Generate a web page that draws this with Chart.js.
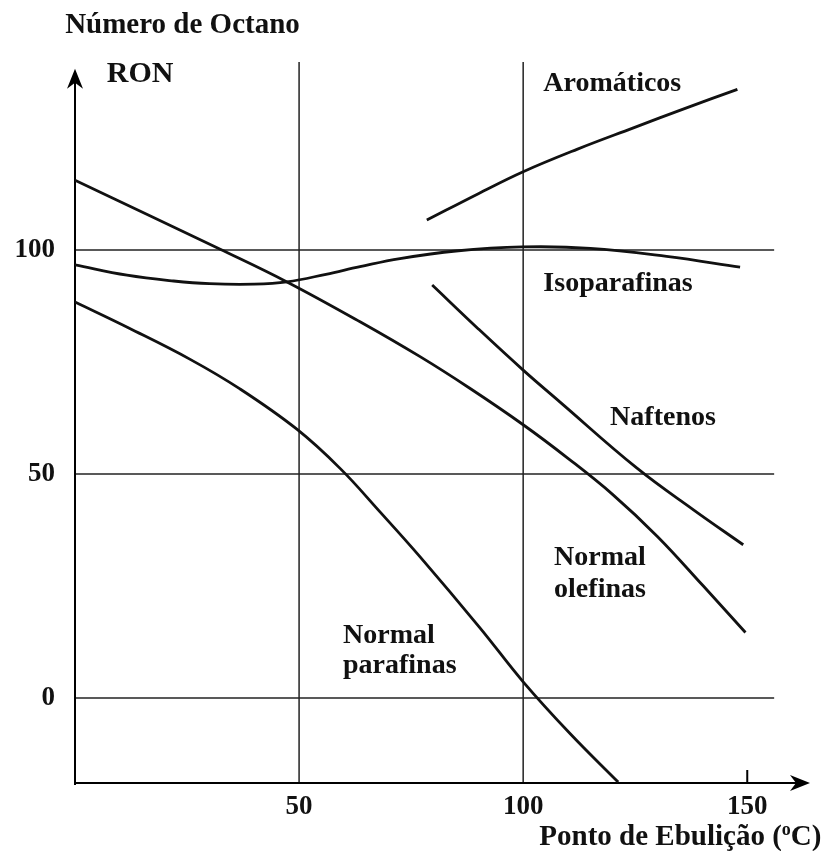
<!DOCTYPE html>
<html lang="pt">
<head>
<meta charset="utf-8">
<title>Número de Octano x Ponto de Ebulição</title>
<script src="https://cdn.jsdelivr.net/npm/chart.js@4.4.1/dist/chart.umd.min.js"></script>
<style>
  html, body { margin: 0; padding: 0; background: #fff; }
  #wrap { width: 824px; height: 851px; }
</style>
</head>
<body>
<div id="wrap"><canvas id="ronChart" width="824" height="851"></canvas></div>
<script>
// Ponto de ebulição (°C) e RON, por família
const aromaticosX = [78.5, 90, 100, 112, 124.6, 136, 147.8];
const aromaticosY = [106.7, 112.6, 117.5, 122.5, 127.3, 131.6, 135.9];

const isoparafinasX = [0, 11.6, 22, 30, 40, 47.3, 56, 63.6, 72.5, 85, 99.8, 115, 132, 148.4];
const isoparafinasY = [96.7, 94.4, 93.1, 92.5, 92.4, 92.9, 94.6, 96.3, 98.1, 99.8, 100.7, 100.4, 98.6, 96.2];

const naftenosX = [79.7, 90, 100, 108.3, 125.4, 138, 149.1];
const naftenosY = [92.2, 82.4, 73.2, 66, 51.3, 42, 34.2];

const olefinasX = [0, 16, 32.4, 47.3, 63.6, 77, 88, 100, 110, 120, 130, 140, 149.6];
const olefinasY = [115.6, 108, 100.2, 92.9, 84, 76.2, 69.2, 61, 53.5, 45.4, 36, 25.2, 14.6];

const parafinasX = [0, 12, 25.7, 36.8, 49.5, 59.2, 68, 77, 90.4, 100, 110.5, 121.2];
const parafinasY = [88.4, 82.6, 75.6, 69, 60, 51.2, 41.6, 31.5, 15.6, 3.6, -8, -18.8];

const xTicks = [50, 100, 150];
const yTicks = [0, 50, 100];
const refLinesY = [0, 50, 100];
const refLinesX = [50, 100];

// textos da figura, ancorados em coordenadas do gráfico (canto esquerdo, linha de base)
const labelTexts = ['Aromáticos', 'Isoparafinas', 'Naftenos', 'Normal', 'olefinas', 'Normal', 'parafinas'];
const labelX = [104.5, 104.5, 119.4, 106.9, 106.9, 59.8, 59.8];
const labelY = [135.5, 90.8, 60.9, 29.7, 22.5, 12.3, 5.6];

const SERIF = "'Liberation Serif', 'Times New Roman', serif";

function toPoints(xs, ys) {
  return xs.map((x, i) => ({ x: x, y: ys[i] }));
}

function curve(label, xs, ys) {
  return {
    label: label,
    data: toPoints(xs, ys),
    showLine: true,
    borderColor: '#111',
    borderWidth: 2.8,
    pointRadius: 0,
    tension: 0.4,
    fill: false
  };
}

// linhas de referência, eixos com setas e textos
const figurePlugin = {
  id: 'figure',
  beforeDatasetsDraw(chart) {
    const { ctx, scales: { x, y } } = chart;
    ctx.save();
    ctx.strokeStyle = '#222';
    ctx.lineWidth = 1.5;
    refLinesY.forEach(v => {
      ctx.beginPath();
      ctx.moveTo(x.getPixelForValue(0), y.getPixelForValue(v));
      ctx.lineTo(x.getPixelForValue(156), y.getPixelForValue(v));
      ctx.stroke();
    });
    refLinesX.forEach(v => {
      ctx.beginPath();
      ctx.moveTo(x.getPixelForValue(v), y.getPixelForValue(y.min));
      ctx.lineTo(x.getPixelForValue(v), y.getPixelForValue(y.max));
      ctx.stroke();
    });

    // eixos
    const x0 = x.getPixelForValue(0);
    const yb = y.getPixelForValue(y.min);
    const yTop = y.getPixelForValue(140.5);
    const xEnd = x.getPixelForValue(x.max);
    ctx.strokeStyle = '#000';
    ctx.lineWidth = 2;
    ctx.beginPath();
    ctx.moveTo(x0, yb + 2);
    ctx.lineTo(x0, yTop + 6);
    ctx.moveTo(x0, yb);
    ctx.lineTo(xEnd - 6, yb);
    // traço em 150
    const x150 = x.getPixelForValue(150);
    ctx.moveTo(x150, yb);
    ctx.lineTo(x150, yb - 13);
    ctx.stroke();

    ctx.fillStyle = '#000';
    ctx.beginPath();
    ctx.moveTo(x0, yTop);
    ctx.lineTo(x0 - 8, yTop + 20);
    ctx.lineTo(x0, yTop + 14);
    ctx.lineTo(x0 + 8, yTop + 20);
    ctx.closePath();
    ctx.fill();
    ctx.beginPath();
    ctx.moveTo(xEnd, yb);
    ctx.lineTo(xEnd - 20, yb - 8);
    ctx.lineTo(xEnd - 14, yb);
    ctx.lineTo(xEnd - 20, yb + 8);
    ctx.closePath();
    ctx.fill();
    ctx.restore();
  },
  afterDraw(chart) {
    const { ctx, scales: { x, y } } = chart;
    ctx.save();
    ctx.fillStyle = '#111';
    ctx.textAlign = 'left';
    ctx.textBaseline = 'alphabetic';

    ctx.font = 'bold 28px ' + SERIF;
    labelTexts.forEach((t, i) => {
      ctx.fillText(t, x.getPixelForValue(labelX[i]), y.getPixelForValue(labelY[i]));
    });

    ctx.font = 'bold 29px ' + SERIF;
    ctx.fillText('Número de Octano', x.getPixelForValue(-2.2), y.getPixelForValue(148.4));

    ctx.font = 'bold 30px ' + SERIF;
    ctx.fillText('RON', x.getPixelForValue(7.1), y.getPixelForValue(137.5));

    // eixo x: Ponto de Ebulição (°C) com "o" sobrescrito
    const px = x.getPixelForValue(103.6);
    const py = y.getPixelForValue(-32.8);
    ctx.font = 'bold 29px ' + SERIF;
    const head = 'Ponto de Ebulição (';
    ctx.fillText(head, px, py);
    let w = ctx.measureText(head).width;
    ctx.font = 'bold 18px ' + SERIF;
    ctx.fillText('o', px + w, py - 10);
    w += ctx.measureText('o').width;
    ctx.font = 'bold 29px ' + SERIF;
    ctx.fillText('C)', px + w, py);
    ctx.restore();
  }
};

new Chart(document.getElementById('ronChart'), {
  type: 'scatter',
  data: {
    datasets: [
      curve('Aromáticos', aromaticosX, aromaticosY),
      curve('Isoparafinas', isoparafinasX, isoparafinasY),
      curve('Naftenos', naftenosX, naftenosY),
      curve('Normal olefinas', olefinasX, olefinasY),
      curve('Normal parafinas', parafinasX, parafinasY)
    ]
  },
  options: {
    responsive: false,
    animation: false,
    devicePixelRatio: 1,
    layout: { padding: { left: 0, top: 62, right: 14, bottom: 0 } },
    plugins: {
      legend: { display: false },
      tooltip: { enabled: false }
    },
    scales: {
      x: {
        type: 'linear',
        min: 0,
        max: 164,
        grid: { display: false, drawTicks: false },
        border: { display: false },
        afterBuildTicks: axis => { axis.ticks = xTicks.map(v => ({ value: v })); },
        afterFit: axis => { axis.height = 68; },
        ticks: {
          color: '#111',
          padding: 8,
          font: { family: SERIF, size: 27, weight: 'bold' },
          callback: v => String(v)
        }
      },
      y: {
        type: 'linear',
        min: -19,
        max: 142,
        grid: { display: false, drawTicks: false },
        border: { display: false },
        afterBuildTicks: axis => { axis.ticks = yTicks.map(v => ({ value: v })); },
        afterFit: axis => { axis.width = 75; },
        ticks: {
          color: '#111',
          padding: 20,
          font: { family: SERIF, size: 27, weight: 'bold' },
          callback: v => String(v)
        }
      }
    }
  },
  plugins: [figurePlugin]
});
</script>
</body>
</html>
